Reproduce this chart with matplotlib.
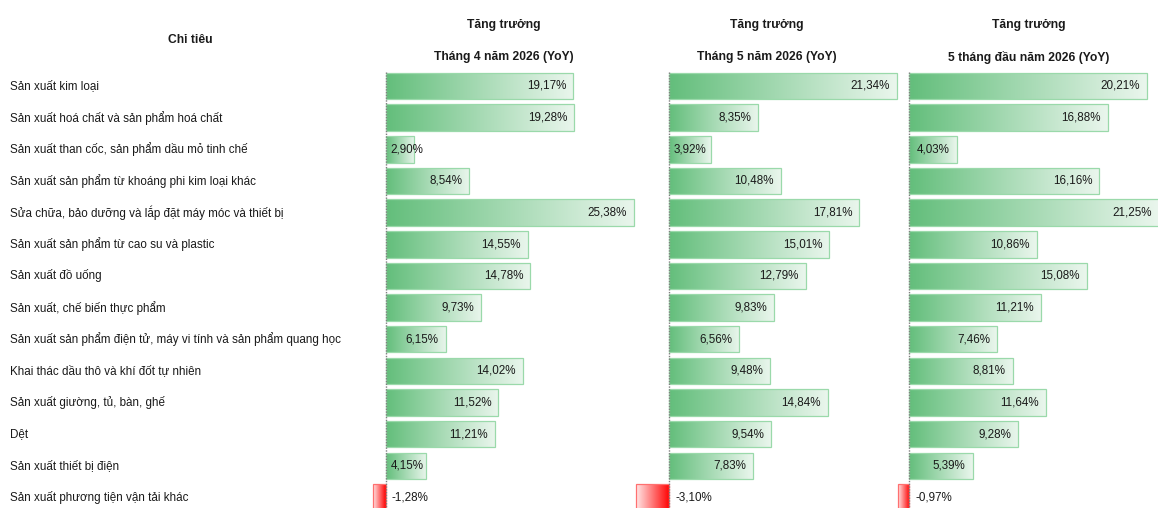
import numpy as np
import matplotlib.pyplot as plt
from matplotlib.colors import LinearSegmentedColormap

plt.rcParams['font.family'] = ['Liberation Sans', 'DejaVu Sans']

# data
categories = [
    "Sản xuất kim loại",
    "Sản xuất hoá chất và sản phẩm hoá chất",
    "Sản xuất than cốc, sản phẩm dầu mỏ tinh chế",
    "Sản xuất sản phẩm từ khoáng phi kim loại khác",
    "Sửa chữa, bảo dưỡng và lắp đặt máy móc và thiết bị",
    "Sản xuất sản phẩm từ cao su và plastic",
    "Sản xuất đồ uống",
    "Sản xuất, chế biến thực phẩm",
    "Sản xuất sản phẩm điện tử, máy vi tính và sản phẩm quang học",
    "Khai thác dầu thô và khí đốt tự nhiên",
    "Sản xuất giường, tủ, bàn, ghế",
    "Dệt",
    "Sản xuất thiết bị điện",
    "Sản xuất phương tiện vận tải khác",
]
apr_2026 = [19.17, 19.28, 2.90, 8.54, 25.38, 14.55, 14.78, 9.73, 6.15, 14.02, 11.52, 11.21, 4.15, -1.28]
may_2026 = [21.34, 8.35, 3.92, 10.48, 17.81, 15.01, 12.79, 9.83, 6.56, 9.48, 14.84, 9.54, 7.83, -3.10]
ytd_2026 = [20.21, 16.88, 4.03, 16.16, 21.25, 10.86, 15.08, 11.21, 7.46, 8.81, 11.64, 9.28, 5.39, -0.97]
headers = ["Tháng 4 năm 2026 (YoY)", "Tháng 5 năm 2026 (YoY)", "5 tháng đầu năm 2026 (YoY)"]

W, H = 1158, 508
fig = plt.figure(figsize=(W / 100, H / 100), dpi=100)

# row layout (pixels)
row0, row_step = 86, 31.65
ytop = -row0 / row_step
ybot = (H - row0) / row_step

green = LinearSegmentedColormap.from_list('g', ['#63be7b', '#eaf6ed'])
red = LinearSegmentedColormap.from_list('r', ['#ff0000', '#ffe8e8'])
grad = np.linspace(0, 1, 256).reshape(1, -1)

cell_left = [373, 636, 898]
cell_w = 261
text_color = '#1a1a1a'
fs = 8.4
fs_head = 8.7

# left label column
for i, name in enumerate(categories):
    fig.text(10 / W, 1 - (row0 + i * row_step) / H, name, ha='left', va='center',
             fontsize=fs, color=text_color)
fig.text(190 / W, 1 - 40 / H, "Chỉ tiêu", ha='center', va='center',
         fontsize=fs_head, fontweight='bold', color=text_color)

renderer = fig.canvas.get_renderer()
rows = np.arange(len(categories))

for k, vals in enumerate([apr_2026, may_2026, ytd_2026]):
    ax = fig.add_axes([cell_left[k] / W, 0, cell_w / W, 1])
    ax.axis('off')
    vmin, vmax = min(vals), max(vals)

    center = (cell_left[k] + 262 / 2) / W
    fig.text(center, 1 - 25 / H, "Tăng trưởng", ha='center', va='center',
             fontsize=fs_head, fontweight='bold', color=text_color)
    fig.text(center, 1 - 57 / H, headers[k], ha='center', va='center',
             fontsize=fs_head, fontweight='bold', color=text_color)

    bars = ax.barh(rows, vals, height=0.84, facecolor='none', zorder=3)
    for bar, v in zip(bars, vals):
        x0, x1 = (0, v) if v >= 0 else (v, 0)
        y0, y1 = bar.get_y(), bar.get_y() + bar.get_height()
        cmap = green if v >= 0 else red
        g = grad if v >= 0 else grad[:, ::-1]
        im = ax.imshow(g, extent=(x0, x1, y1, y0), aspect='auto', cmap=cmap,
                       zorder=2, interpolation='bilinear')
        im.set_clip_path(bar)
        bar.set_edgecolor('#9ad9aa' if v >= 0 else '#ff7070')
        bar.set_linewidth(0.9)
        bar.set_clip_on(False)

    ax.set_xlim(vmin, vmax)
    ax.set_ylim(ybot, ytop)
    ax.plot([0, 0], [-0.45, ybot], color='#7f7f7f', lw=1, ls=(0, (1, 1)), zorder=4,
            clip_on=False)

    zero_px = ax.transData.transform((0, 0))[0]
    for r, v in zip(rows, vals):
        label = f"{v:.2f}%".replace('.', ',')
        if v >= 0:
            t = ax.annotate(label, xy=(v, r), xytext=(-7, 0), textcoords='offset pixels',
                            ha='right', va='center', fontsize=fs, color=text_color, zorder=5)
            bb = t.get_window_extent(renderer)
            if bb.x0 < zero_px + 3:
                t.remove()
                ax.annotate(label, xy=(0, r), xytext=(5, 0), textcoords='offset pixels',
                            ha='left', va='center', fontsize=fs, color=text_color, zorder=5)
        else:
            ax.annotate(label, xy=(0, r), xytext=(6, 0), textcoords='offset pixels',
                        ha='left', va='center', fontsize=fs, color=text_color, zorder=5)

fig.savefig('out.png', dpi=100)
